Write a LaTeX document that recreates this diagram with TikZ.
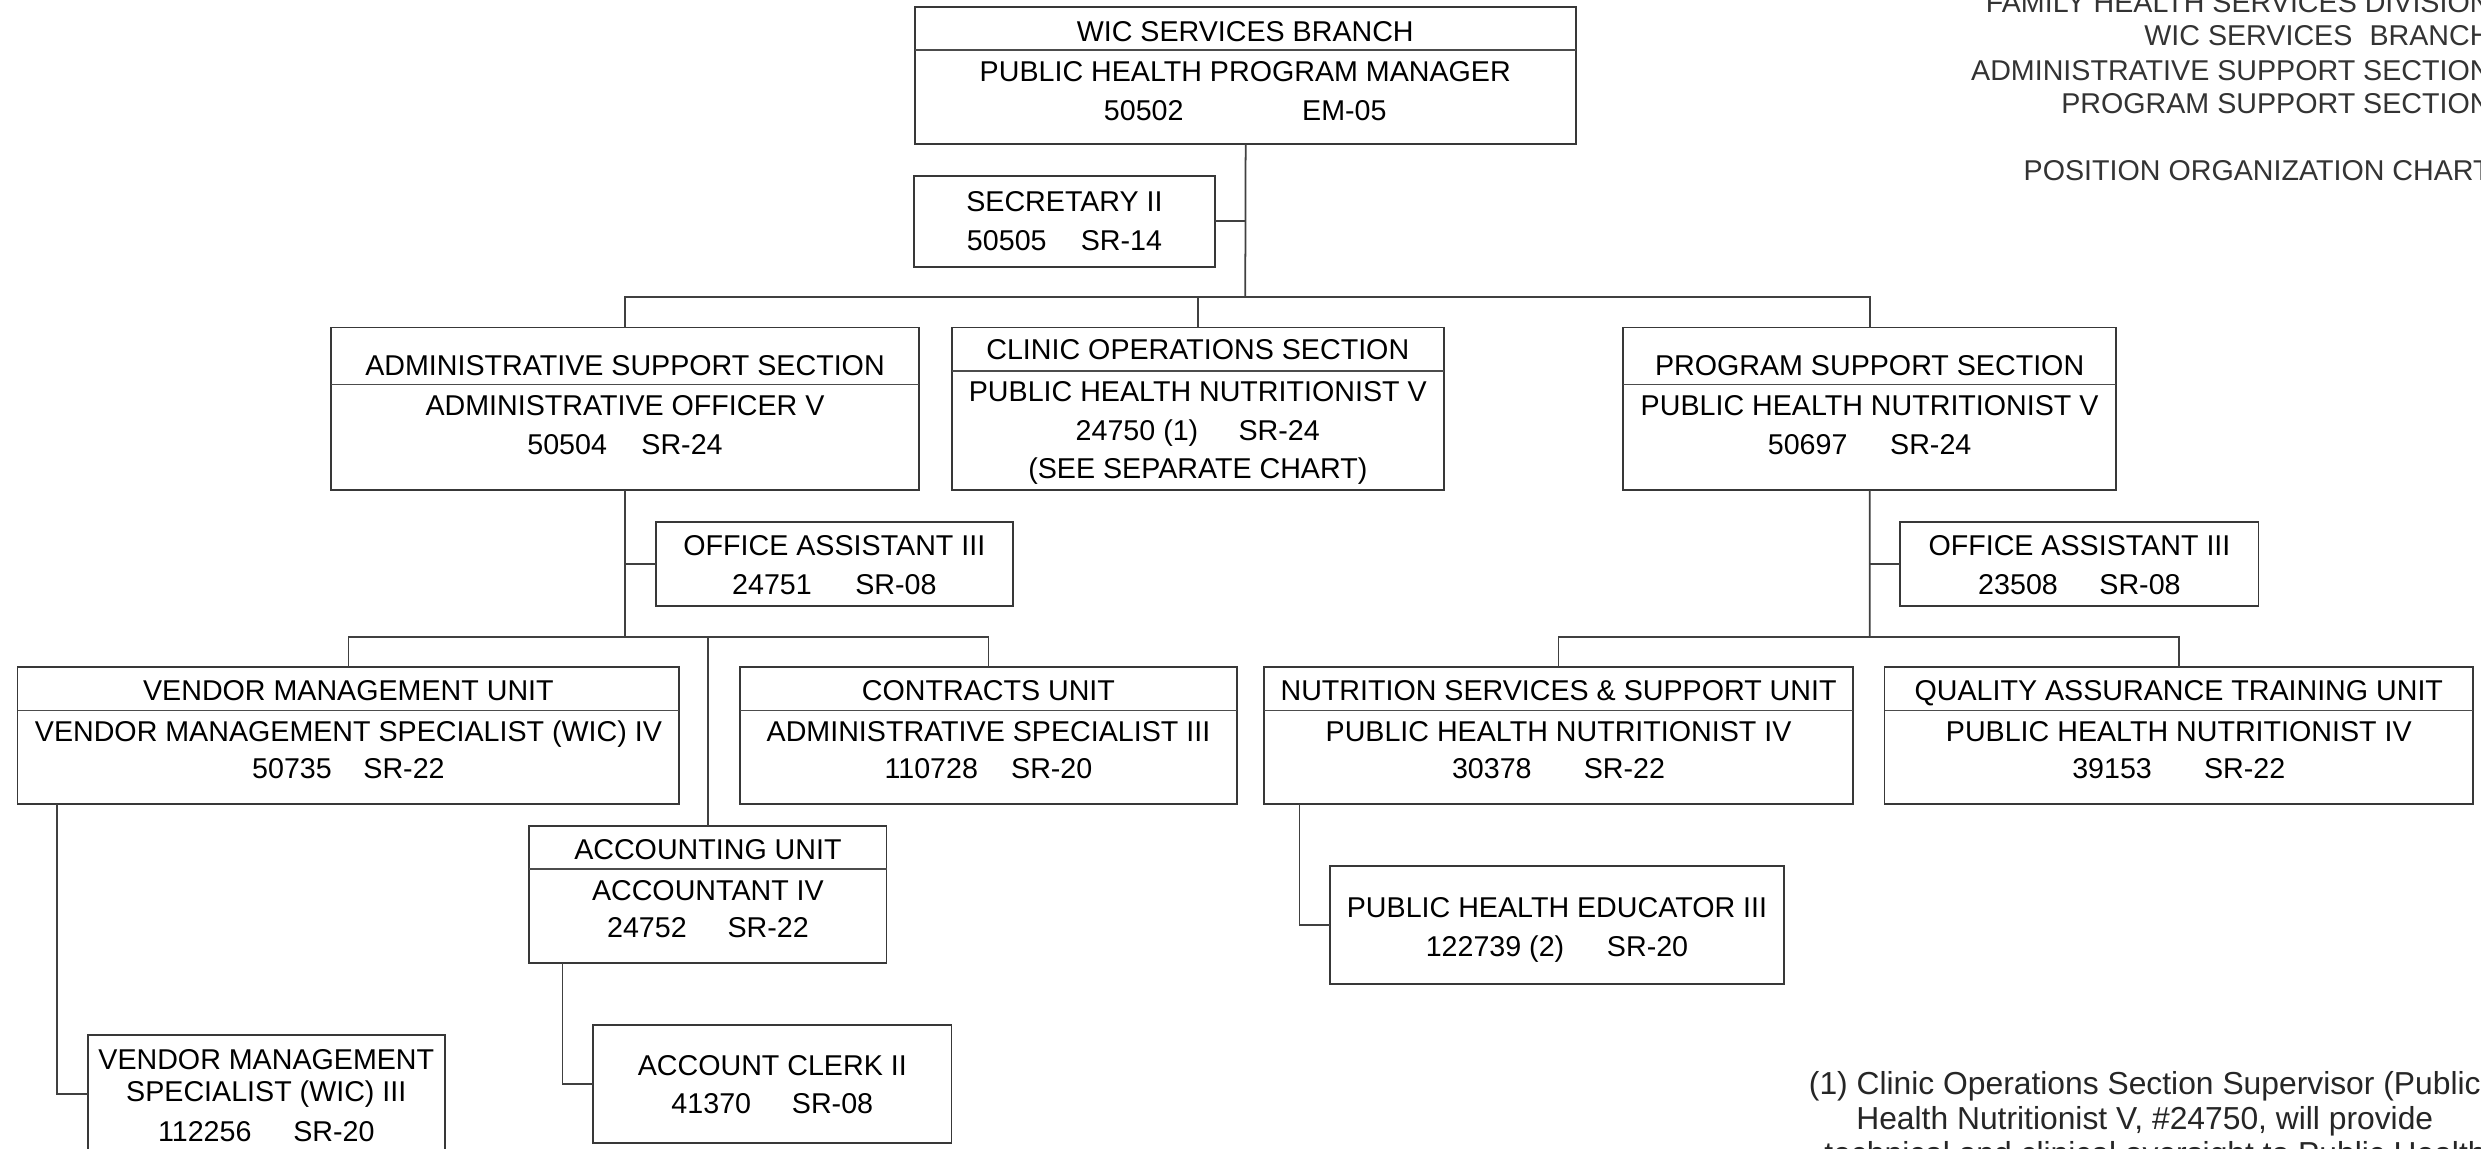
\documentclass[tikz,border=0pt]{standalone}
\usepackage{fontspec}
\setmainfont{Liberation Sans}
\newlength\dpx
\setlength\dpx{0.0158227cm}
\newcommand\orgbox[5]{\node[box, minimum width={(#4-#2)*\dpx}, minimum height={(#5-#3)*\dpx}] (#1) at ({(#2+#4)/2},{(#3+#5)/2}) {};}
\begin{document}
\begin{tikzpicture}[x=0.0158227cm, y=-0.0158227cm,
  font=\fontsize{8.15}{9.8}\selectfont,
  box/.style={draw=black!78, line width=0.5pt, inner sep=0pt, outer sep=0pt},
  divl/.style={draw=black!70, line width=0.5pt},
  conn/.style={draw=black!75, line width=0.5pt},
  lbl/.style={inner sep=0pt, outer sep=0pt, anchor=base, text=black},
  hdr/.style={inner sep=0pt, outer sep=0pt, anchor=base east, text=black!80},
  fn/.style={inner sep=0pt, outer sep=0pt, anchor=base, text=black!85, font=\fontsize{9.05}{10.9}\selectfont}]
\useasboundingbox (0,0) rectangle (1568,725.54);
\clip (0,0) rectangle (1568,725.54);

% ---------- header ----------
\node[hdr] (h1) at (1574,7.8) {FAMILY HEALTH SERVICES DIVISION};
\node[hdr] (h2) at (1574,28.9) {WIC SERVICES\hspace{0.6em}BRANCH};
\node[hdr] (h3) at (1574,50.6) {ADMINISTRATIVE SUPPORT SECTION};
\node[hdr] (h4) at (1574,71.6) {PROGRAM SUPPORT SECTION};
\node[hdr] (h5) at (1574,113.8) {POSITION ORGANIZATION CHART};

% ---------- boxes ----------
\orgbox{top}{578.5}{4.2}{996}{91}
\draw[divl] (578.5,31.6) -- (996,31.6);
\node[lbl] (top1) at (787,26.3) {WIC SERVICES BRANCH};
\node[lbl] (top2) at (787,51.7) {PUBLIC HEALTH PROGRAM MANAGER};
\node[lbl] (top3) at (787,75.9) {50502\hspace{75\dpx}EM-05};

\orgbox{sec}{577.5}{111}{768}{168.5}
\node[lbl] (sec1) at (672.75,133.9) {SECRETARY II};
\node[lbl] (sec2) at (672.75,158) {50505\hspace{21.6\dpx}SR-14};

\orgbox{adm}{209}{207}{581}{309.7}
\draw[divl] (209,243) -- (581,243);
\node[lbl] (adm1) at (395,237) {ADMINISTRATIVE SUPPORT SECTION};
\node[lbl] (adm2) at (395,262.4) {ADMINISTRATIVE OFFICER V};
\node[lbl] (adm3) at (395,287.5) {50504\hspace{21.8\dpx}SR-24};

\orgbox{cli}{601.6}{207}{912.5}{309.7}
\draw[divl] (601.6,234.3) -- (912.5,234.3);
\node[lbl] (cli1) at (757,227.5) {CLINIC OPERATIONS SECTION};
\node[lbl] (cli2) at (757,253.9) {PUBLIC HEALTH NUTRITIONIST V};
\node[lbl] (cli3) at (757,278.5) {24750 (1)\hspace{25.5\dpx}SR-24};
\node[lbl] (cli4) at (757,302.4) {(SEE SEPARATE CHART)};

\orgbox{pro}{1025.8}{207}{1337.4}{309.7}
\draw[divl] (1025.8,243) -- (1337.4,243);
\node[lbl] (pro1) at (1181.6,237) {PROGRAM SUPPORT SECTION};
\node[lbl] (pro2) at (1181.6,262.4) {PUBLIC HEALTH NUTRITIONIST V};
\node[lbl] (pro3) at (1181.6,287.4) {50697\hspace{27\dpx}SR-24};

\orgbox{oaa}{414.5}{330}{640.2}{383}
\node[lbl] (oaa1) at (527.3,350.8) {OFFICE ASSISTANT III};
\node[lbl] (oaa2) at (527.3,375.6) {24751\hspace{27.5\dpx}SR-08};

\orgbox{oab}{1201}{330}{1427.3}{383}
\node[lbl] (oab1) at (1314.2,350.8) {OFFICE ASSISTANT III};
\node[lbl] (oab2) at (1314.2,375.6) {23508\hspace{26.3\dpx}SR-08};

\orgbox{ven}{11.1}{421.5}{429.3}{508}
\draw[divl] (11.1,449) -- (429.3,449);
\node[lbl] (ven1) at (220.2,442.5) {VENDOR MANAGEMENT UNIT};
\node[lbl] (ven2) at (220.2,468.9) {VENDOR MANAGEMENT SPECIALIST (WIC) IV};
\node[lbl] (ven3) at (220.2,492.2) {50735\hspace{20\dpx}SR-22};

\orgbox{con}{467.5}{421.5}{782}{508}
\draw[divl] (467.5,449) -- (782,449);
\node[lbl] (con1) at (624.7,442.5) {CONTRACTS UNIT};
\node[lbl] (con2) at (624.7,468.9) {ADMINISTRATIVE SPECIALIST III};
\node[lbl] (con3) at (624.7,492.2) {110728\hspace{21\dpx}SR-20};

\orgbox{nut}{799}{421.5}{1171}{508}
\draw[divl] (799,449) -- (1171,449);
\node[lbl] (nut1) at (985,442.5) {NUTRITION SERVICES \& SUPPORT UNIT};
\node[lbl] (nut2) at (985,468.9) {PUBLIC HEALTH NUTRITIONIST IV};
\node[lbl] (nut3) at (985,492.2) {30378\hspace{33\dpx}SR-22};

\orgbox{qa}{1191}{421.5}{1563}{508}
\draw[divl] (1191,449) -- (1563,449);
\node[lbl] (qa1) at (1377,442.5) {QUALITY ASSURANCE TRAINING UNIT};
\node[lbl] (qa2) at (1377,468.9) {PUBLIC HEALTH NUTRITIONIST IV};
\node[lbl] (qa3) at (1377,492.2) {39153\hspace{33\dpx}SR-22};

\orgbox{acc}{334.5}{522}{560.3}{608.8}
\draw[divl] (334.5,549.4) -- (560.3,549.4);
\node[lbl] (acc1) at (447.4,543) {ACCOUNTING UNIT};
\node[lbl] (acc2) at (447.4,569.4) {ACCOUNTANT IV};
\node[lbl] (acc3) at (447.4,592.7) {24752\hspace{25.8\dpx}SR-22};

\orgbox{clk}{374.8}{647.8}{601.4}{722.2}
\node[lbl] (clk1) at (488.1,679.4) {ACCOUNT CLERK II};
\node[lbl] (clk2) at (488.1,703.7) {41370\hspace{25.8\dpx}SR-08};

\orgbox{edu}{840.6}{547.3}{1127.3}{622}
\node[lbl] (edu1) at (984,579.8) {PUBLIC HEALTH EDUCATOR III};
\node[lbl] (edu2) at (984,604.3) {122739 (2)\hspace{27\dpx}SR-20};

\orgbox{vms}{55.4}{654.1}{281.2}{728.7}
\node[lbl] (vms1) at (168.3,676.2) {VENDOR MANAGEMENT};
\node[lbl] (vms2) at (168.3,696.3) {SPECIALIST (WIC) III};
\node[lbl] (vms3) at (168.3,721.5) {112256\hspace{26.4\dpx}SR-20};

% ---------- footnote ----------
\node[fn] (fn1) at (1355.5,692) {(1) Clinic Operations Section Supervisor (Public};
\node[fn] (fn2) at (1355.5,714) {Health Nutritionist V, \#24750, will provide};
\node[fn] (fn3) at (1362,736) {technical and clinical oversight to Public Health};

% ---------- connectors ----------
\coordinate (b1) at (787,187.5);
\draw[conn] (top.south) -- (b1);
\draw[conn] (sec.east) -- (sec.east -| b1);
\draw[conn] (adm.north) |- (b1) -| (pro.north);
\draw[conn] (cli.north) -- (cli.north |- b1);

\coordinate (b2) at (395,402.4);
\draw[conn] (adm.south) -- (b2);
\draw[conn] (oaa.west) -- (oaa.west -| b2);
\draw[conn] (ven.north) |- (b2) -| (con.north);
\draw[conn] (acc.north) -- (acc.north |- b2);

\coordinate (accd) at (355.5,608.8);
\draw[conn] (accd) |- (clk.west);
\coordinate (vend) at (36.2,508);
\draw[conn] (vend) |- (vms.west);

\coordinate (b3) at (1181.6,402.4);
\draw[conn] (pro.south) -- (b3);
\draw[conn] (oab.west) -- (oab.west -| b3);
\draw[conn] (nut.north) |- (b3) -| (qa.north);
\coordinate (nutd) at (821.3,508);
\draw[conn] (nutd) |- (edu.west);
\end{tikzpicture}
\end{document}
